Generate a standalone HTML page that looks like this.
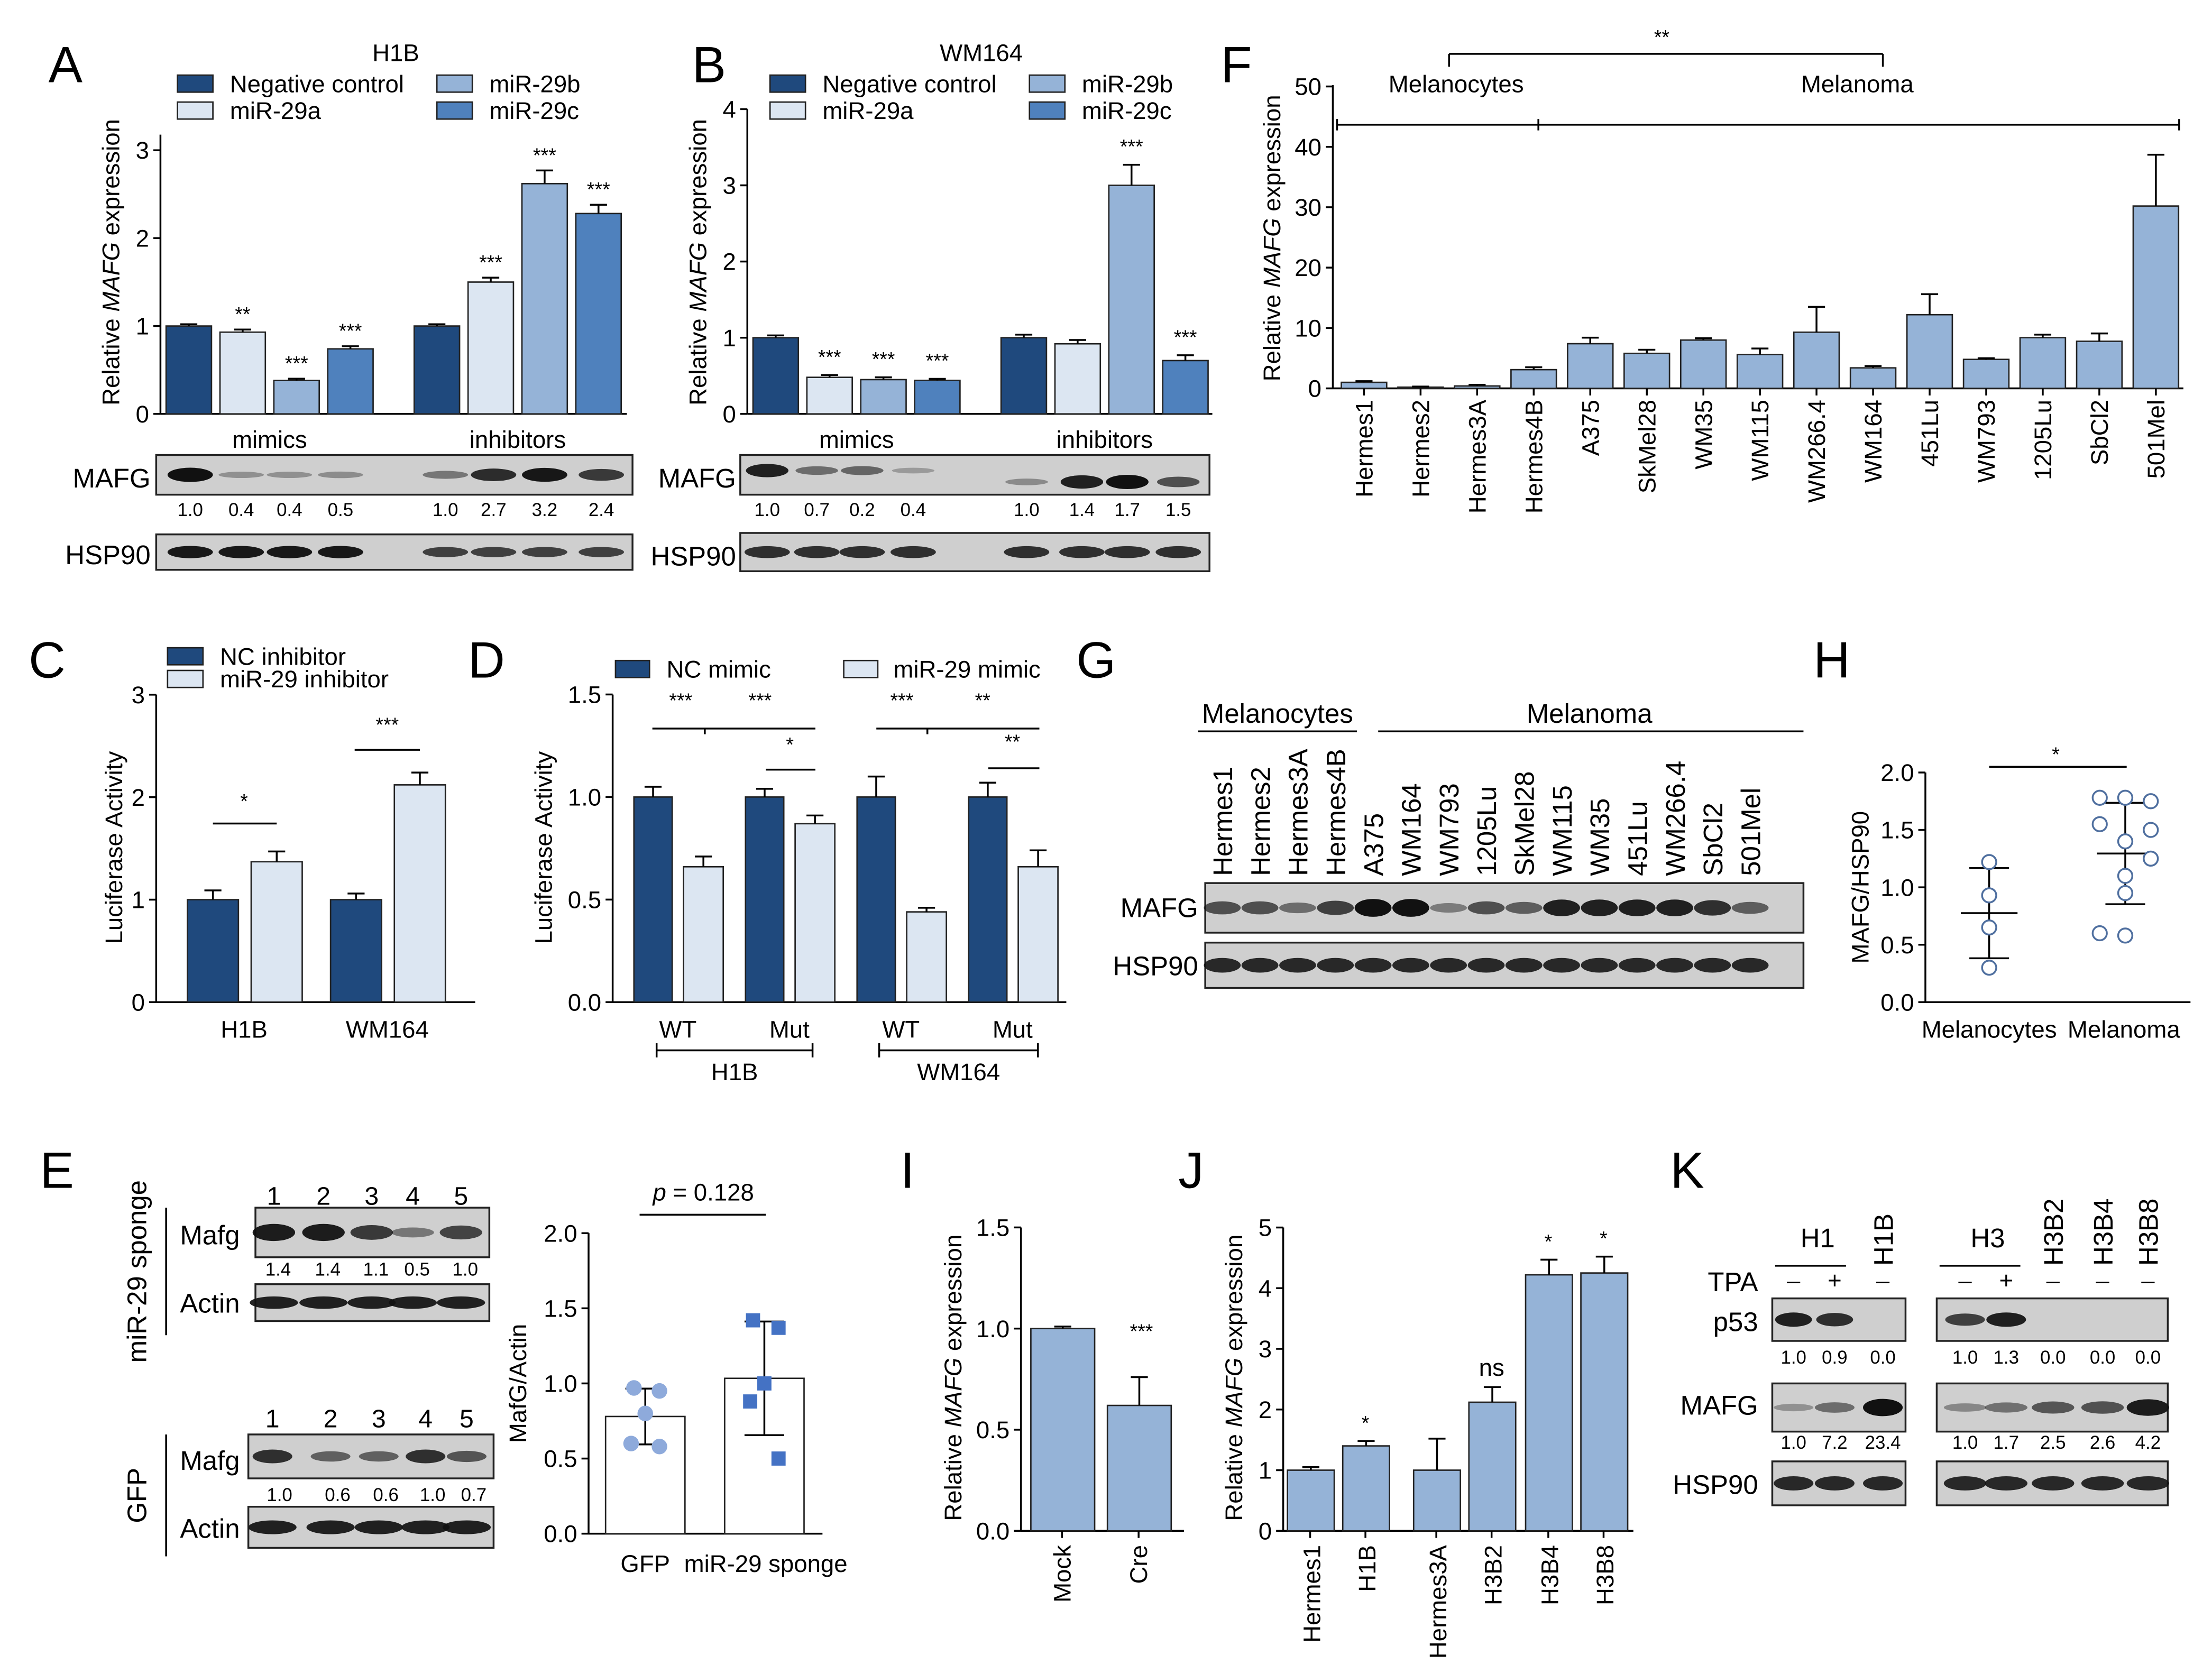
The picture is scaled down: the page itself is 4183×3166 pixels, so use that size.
<!DOCTYPE html>
<html><head><meta charset="utf-8">
<style>
html,body{margin:0;padding:0;background:#fff;}
svg{display:block;font-family:"Liberation Sans",sans-serif;}
</style></head>
<body>
<svg id="fig" width="4183" height="3166" viewBox="0 0 1560 1181" xmlns="http://www.w3.org/2000/svg"></svg>
<script>
// ---- data ----
const colA = ['#1f497d','#dce6f2','#95b3d7','#4f81bd'];
const aMimics = [1.0,0.93,0.38,0.74];
const aMimicsErr = [0.02,0.03,0.02,0.03];
const aInhib = [1.0,1.5,2.62,2.28];
const aInhibErr = [0.02,0.05,0.15,0.1];
const aStarsM = ['','**','***','***'];
const aStarsI = ['','***','***','***'];
const bMimics = [1.0,0.48,0.45,0.44];
const bMimicsErr = [0.03,0.03,0.03,0.02];
const bInhib = [1.0,0.92,3.0,0.7];
const bInhibErr = [0.04,0.05,0.27,0.07];
const bStarsM = ['','***','***','***'];
const bStarsI = ['','','***','***'];
const blotA = [1.0,0.4,0.4,0.5,1.0,2.7,3.2,2.4];
const blotB = [1.0,0.7,0.2,0.4,1.0,1.4,1.7,1.5];
const fCats = ['Hermes1','Hermes2','Hermes3A','Hermes4B','A375','SkMel28','WM35','WM115','WM266.4','WM164','451Lu','WM793','1205Lu','SbCl2','501Mel'];
const fVals = [1.0,0.2,0.4,3.1,7.4,5.8,8.0,5.6,9.3,3.4,12.2,4.8,8.4,7.8,30.2];
const fErr = [0.2,0.1,0.2,0.4,1.0,0.6,0.3,1.0,4.2,0.3,3.4,0.2,0.5,1.3,8.5];
const fTicks = [0,10,20,30,40,50];
const cCats = ['H1B','WM164'];
const cNC = [1.0,1.0];
const cNCErr = [0.09,0.06];
const cMiR = [1.37,2.12];
const cMiRErr = [0.1,0.12];
const dCats = ['WT','Mut','WT','Mut'];
const dNC = [1.0,1.0,1.0,1.0];
const dNCErr = [0.05,0.04,0.1,0.07];
const dMiR = [0.66,0.87,0.44,0.66];
const dMiRErr = [0.05,0.04,0.02,0.08];
const gLanes = ['Hermes1','Hermes2','Hermes3A','Hermes4B','A375','WM164','WM793','1205Lu','SkMel28','WM115','WM35','451Lu','WM266.4','SbCl2','501Mel'];
const gMafg = [0.6,0.6,0.4,0.7,1,1,0.3,0.6,0.5,0.9,0.9,0.9,0.9,0.8,0.5];
const hMel = [1.22,0.93,0.65,0.3];
const hMelanoma = [1.78,1.78,1.75,1.55,1.5,1.4,1.25,1.1,0.95,0.6,0.58];
const eGFP = [0.97,0.95,0.8,0.6,0.58];
const eSponge = [1.42,1.37,1.0,0.88,0.5];
const eSpongeBlot = [1.4,1.4,1.1,0.5,1.0];
const eGFPBlot = [1.0,0.6,0.6,1.0,0.7];
const iCats = ['Mock','Cre'];
const iVals = [1.0,0.62];
const iErr = [0.01,0.14];
const jCats = ['Hermes1','H1B','Hermes3A','H3B2','H3B4','H3B8'];
const jVals = [1.0,1.4,1.0,2.12,4.22,4.25];
const jErr = [0.05,0.08,0.52,0.25,0.25,0.27];
const jSig = ['','*','','ns','*','*'];
const kP53a = [1.0,0.9,0.0];
const kMafga = [1.0,7.2,23.4];
const kP53b = [1.0,1.3,0.0,0.0,0.0];
const kMafgb = [1.0,1.7,2.5,2.6,4.2];

const NS='http://www.w3.org/2000/svg';
const svg=document.getElementById('fig');
function mk(tag,attrs,name,parent){
  const e=document.createElementNS(NS,tag);
  for(const k in attrs)e.setAttribute(k,attrs[k]);
  
  
  (parent||svg).appendChild(e);return e;
}
function txt(x,y,s,size,name,opt){
  opt=opt||{};
  const a={x:x,y:y,'font-size':size,'text-anchor':opt.anchor||'middle',fill:'#000'};
  if(opt.rot!==undefined)a.transform='rotate('+opt.rot+' '+x+' '+y+')';
  if(opt.weight)a['font-weight']=opt.weight;
  const t=mk('text',a,name);
  if(opt.html)t.innerHTML=s;else t.textContent=s;
  return t;
}
function line(x1,y1,x2,y2,name,w){return mk('line',{x1:x1,y1:y1,x2:x2,y2:y2,stroke:'#000','stroke-width':w||1.3},name);}
function yAxis(x,y0,yTop,ticks,scale,fmt,name){
  line(x,y0,x,yTop,name+'-line');
  ticks.forEach(t=>{const y=y0-t*scale;line(x-5,y,x,y,name+'-tick');txt(x-8,y+6,fmt?t.toFixed(fmt):String(t),17,name+'-label',{anchor:'end'});});
}
function bar(x,w,v,err,y0,s,col,name){
  mk('rect',{x:x,y:y0-v*s,width:w,height:v*s,fill:col,stroke:'#222','stroke-width':1},name);
  if(err>0){const xc=x+w/2;line(xc,y0-v*s,xc,y0-(v+err)*s,name+'-error');line(xc-6,y0-(v+err)*s,xc+6,y0-(v+err)*s,name+'-error-cap');}
}
function blot(x,y,w,h,bands,name){
  mk('rect',{x:x,y:y,width:w,height:h,fill:'#cfcfcf',stroke:'#222','stroke-width':1.3},name);
  bands.forEach(b=>{if(b.i>0.02)mk('ellipse',{cx:b.x,cy:y+h/2+(b.dy||0),rx:b.w/2+2,ry:Math.max(1.6,h*0.12*Math.min(1.5,0.5+b.i)),fill:'#111','fill-opacity':Math.min(1,0.2+b.i*0.8)},name+'-band');});
}
function legRect(x,y,col,label,name){mk('rect',{x:x,y:y,width:25,height:12,fill:col,stroke:'#222','stroke-width':1},name+'-swatch');txt(x+37,y+12,label,17,name+'-label',{anchor:'start'});}

// ---------- Panel A ----------
txt(46,58,'A',36,'panel-letter-a');
txt(279,43,'H1B',17,'panel-a-title');
legRect(125,53,colA[0],'Negative control','legend-a-nc');
legRect(125,72,colA[1],'miR-29a','legend-a-29a');
legRect(308,53,colA[2],'miR-29b','legend-a-29b');
legRect(308,72,colA[3],'miR-29c','legend-a-29c');
(function(){const y0=292,s=62,x=113;
 yAxis(x,y0,95,[0,1,2,3],s,0,'a-y-axis');line(x,y0,442,y0,'a-x-axis');
 txt(84,185,'Relative <tspan font-style="italic">MAFG</tspan> expression',17,'a-y-title',{rot:-90,html:true});
 aMimics.forEach((v,i)=>{const bx=117+i*38;bar(bx,32,v,aMimicsErr[i],y0,s,colA[i],'a-bar-mimic');if(aStarsM[i])txt(bx+16,y0-(v+aMimicsErr[i])*s-6,aStarsM[i],14,'a-sig');});
 aInhib.forEach((v,i)=>{const bx=292+i*38;bar(bx,32,v,aInhibErr[i],y0,s,colA[i],'a-bar-inhib');if(aStarsI[i])txt(bx+16,y0-(v+aInhibErr[i])*s-6,aStarsI[i],14,'a-sig');});
 txt(190,316,'mimics',17,'a-group-mimics');txt(365,316,'inhibitors',17,'a-group-inhibitors');
 const xs=[134,170,204,240,314,348,384,424];
 txt(106,344,'MAFG',19,'a-blot-label-mafg',{anchor:'end'});
 blot(110,321,336,28,blotA.map((v,i)=>({x:xs[i],w:28,i:i==0?1:Math.min(1,v/3.5+0.05)})),'a-blot-mafg');
 blotA.forEach((v,i)=>txt(xs[i],364,v.toFixed(1),13,'a-blot-quant'));
 txt(106,398,'HSP90',19,'a-blot-label-hsp90',{anchor:'end'});
 blot(110,377,336,25,xs.map((c,i)=>({x:c,w:28,i:i<4?0.95:0.7})),'a-blot-hsp90');
})();

// ---------- Panel B ----------
txt(500,58,'B',36,'panel-letter-b');
txt(692,43,'WM164',17,'panel-b-title');
legRect(543,53,colA[0],'Negative control','legend-b-nc');
legRect(543,72,colA[1],'miR-29a','legend-b-29a');
legRect(726,53,colA[2],'miR-29b','legend-b-29b');
legRect(726,72,colA[3],'miR-29c','legend-b-29c');
(function(){const y0=292,s=53.75,x=527;
 yAxis(x,y0,77,[0,1,2,3,4],s,0,'b-y-axis');line(x,y0,855,y0,'b-x-axis');
 txt(498,185,'Relative <tspan font-style="italic">MAFG</tspan> expression',17,'b-y-title',{rot:-90,html:true});
 bMimics.forEach((v,i)=>{const bx=531+i*38;bar(bx,32,v,bMimicsErr[i],y0,s,colA[i],'b-bar-mimic');if(bStarsM[i])txt(bx+16,y0-(v+bMimicsErr[i])*s-8,bStarsM[i],14,'b-sig');});
 bInhib.forEach((v,i)=>{const bx=706+i*38;bar(bx,32,v,bInhibErr[i],y0,s,colA[i],'b-bar-inhib');if(bStarsI[i])txt(bx+16,y0-(v+bInhibErr[i])*s-8,bStarsI[i],14,'b-sig');});
 txt(604,316,'mimics',17,'b-group-mimics');txt(779,316,'inhibitors',17,'b-group-inhibitors');
 const xs=[541,576,608,644,724,763,795,831];
 txt(519,344,'MAFG',19,'b-blot-label-mafg',{anchor:'end'});
 blot(522,321,331,28,blotB.map((v,i)=>({x:xs[i],w:26,i:[0.9,0.4,0.45,0.1,0.2,0.9,1,0.6][i],dy:i>=4?5:-3})),'b-blot-mafg');
 blotB.forEach((v,i)=>txt(xs[i],364,v.toFixed(1),13,'b-blot-quant'));
 txt(519,399,'HSP90',19,'b-blot-label-hsp90',{anchor:'end'});
 blot(522,376,331,27,xs.map(c=>({x:c,w:28,i:0.8})),'b-blot-hsp90');
})();

// ---------- Panel F ----------
txt(872,58,'F',36,'panel-letter-f');
(function(){const y0=274,s=4.26,x=940;
 yAxis(x,y0,60,fTicks,s,0,'f-y-axis');line(x,y0,1540,y0,'f-x-axis');
 txt(903,168,'Relative <tspan font-style="italic">MAFG</tspan> expression',17,'f-y-title',{rot:-90,html:true});
 fVals.forEach((v,i)=>{const bx=946+i*39.9;bar(bx,32,v,fErr[i],y0,s,'#95b3d7','f-bar-'+fCats[i]);
   line(bx+16,y0,bx+16,y0+5,'f-x-tick');txt(bx+22,282,fCats[i],17,'f-x-label',{anchor:'end',rot:-90});});
 line(943,88,1085,88,'f-melanocytes-range');line(943,84,943,92,'f-range-tick');line(1085,84,1085,92,'f-range-tick');
 line(1085,88,1537,88,'f-melanoma-range');line(1537,84,1537,92,'f-range-tick');
 line(1022,38,1328,38,'f-sig-bracket');line(1022,38,1022,47,'f-sig-bracket-end');line(1328,38,1328,47,'f-sig-bracket-end');
 txt(1172,31,'**',14,'f-sig');
 txt(1027,65,'Melanocytes',17,'f-group-melanocytes');txt(1310,65,'Melanoma',17,'f-group-melanoma');
})();

// ---------- Panel C ----------
txt(33,478,'C',36,'panel-letter-c');
legRect(118,457,colA[0],'NC inhibitor','legend-c-nc');
legRect(118,473,colA[1],'miR-29 inhibitor','legend-c-mir');
(function(){const y0=707,s=72.3,x=110;
 yAxis(x,y0,490,[0,1,2,3],s,0,'c-y-axis');line(x,y0,335,y0,'c-x-axis');
 txt(86,598,'Luciferase Activity',17,'c-y-title',{rot:-90});
 cCats.forEach((c,i)=>{const gx=132+i*101;bar(gx,36,cNC[i],cNCErr[i],y0,s,colA[0],'c-bar-nc');bar(gx+45,36,cMiR[i],cMiRErr[i],y0,s,colA[1],'c-bar-mir');
   txt(gx+40,732,c,17,'c-x-label');});
 line(150,581,195,581,'c-sig-line');txt(172,570,'*',14,'c-sig');
 line(250,529,296,529,'c-sig-line');txt(273,516,'***',14,'c-sig');
})();

// ---------- Panel D ----------
txt(343,478,'D',36,'panel-letter-d');
mk('rect',{x:434,y:466,width:24,height:12,fill:colA[0],stroke:'#222'},'legend-d-nc-swatch');txt(470,478,'NC mimic',17,'legend-d-nc-label',{anchor:'start'});
mk('rect',{x:595,y:466,width:24,height:12,fill:colA[1],stroke:'#222'},'legend-d-mir-swatch');txt(630,478,'miR-29 mimic',17,'legend-d-mir-label',{anchor:'start'});
(function(){const y0=707,s=144.7,x=432;
 yAxis(x,y0,490,[0,0.5,1,1.5],s,1,'d-y-axis');line(x,y0,752,y0,'d-x-axis');
 txt(389,598,'Luciferase Activity',17,'d-y-title',{rot:-90});
 dCats.forEach((c,i)=>{const gx=447+i*78.7;bar(gx,27,dNC[i],dNCErr[i],y0,s,colA[0],'d-bar-nc');bar(gx+35,28,dMiR[i],dMiRErr[i],y0,s,colA[1],'d-bar-mir');
   txt(gx+31,732,c,17,'d-x-label');});
 line(460,514,575,514,'d-sig-line');line(497,514,497,518,'d-sig-tick');txt(480,499,'***',14,'d-sig');txt(536,499,'***',14,'d-sig');
 line(540,543,575,543,'d-sig-line');txt(557,530,'*',14,'d-sig');
 line(618,514,733,514,'d-sig-line');line(654,514,654,518,'d-sig-tick');txt(636,499,'***',14,'d-sig');txt(693,499,'**',14,'d-sig');
 line(697,542,733,542,'d-sig-line');txt(714,528,'**',14,'d-sig');
 line(463,741,573,741,'d-bracket-h1b');line(463,736,463,746,'d-bracket-end');line(573,736,573,746,'d-bracket-end');txt(518,762,'H1B',17,'d-group-h1b');
 line(620,741,732,741,'d-bracket-wm164');line(620,736,620,746,'d-bracket-end');line(732,736,732,746,'d-bracket-end');txt(676,762,'WM164',17,'d-group-wm164');
})();

// ---------- Panel G ----------
txt(773,478,'G',36,'panel-letter-g');
txt(901,510,'Melanocytes',19,'g-group-melanocytes');line(845,516,957,516,'g-line-melanocytes');
txt(1121,510,'Melanoma',19,'g-group-melanoma');line(972,516,1272,516,'g-line-melanoma');
(function(){const xs=gLanes.map((l,i)=>862+i*26.6);
 gLanes.forEach((l,i)=>txt(xs[i]+7,618,l,19,'g-lane-label',{anchor:'start',rot:-90}));
 txt(845,647,'MAFG',19,'g-blot-label-mafg',{anchor:'end'});
 blot(850,623,422,35,gMafg.map((v,i)=>({x:xs[i],w:22,i:v})),'g-blot-mafg');
 txt(845,688,'HSP90',19,'g-blot-label-hsp90',{anchor:'end'});
 blot(850,665,422,32,xs.map(c=>({x:c,w:22,i:0.85})),'g-blot-hsp90');
})();

// ---------- Panel H ----------
txt(1292,478,'H',36,'panel-letter-h');
(function(){const y0=707,s=81,x=1358;
 yAxis(x,y0,545,[0,0.5,1,1.5,2],s,1,'h-y-axis');line(x,y0,1545,y0,'h-x-axis');
 txt(1318,626,'MAFG/HSP90',17,'h-y-title',{rot:-90});
 txt(1403,732,'Melanocytes',17,'h-x-label');txt(1498,732,'Melanoma',17,'h-x-label');
 line(1403,541,1500,541,'h-sig-line');txt(1450,537,'*',14,'h-sig');
 function grp(vals,cx,offs,name){const m=vals.reduce((a,b)=>a+b,0)/vals.length;const sd=Math.sqrt(vals.reduce((a,b)=>a+(b-m)*(b-m),0)/(vals.length-1));
   line(cx,y0-(m-sd)*s,cx,y0-(m+sd)*s,name+'-sd');line(cx-20,y0-m*s,cx+20,y0-m*s,name+'-mean');line(cx-14,y0-(m+sd)*s,cx+14,y0-(m+sd)*s,name+'-sd-cap');line(cx-14,y0-(m-sd)*s,cx+14,y0-(m-sd)*s,name+'-sd-cap');
   vals.forEach((v,i)=>mk('circle',{cx:cx+offs[i],cy:y0-v*s,r:5,fill:'#fff',stroke:'#4f6f9f','stroke-width':1.3},name+'-point'));}
 grp(hMel,1403,[0,0,0,0],'h-melanocytes');
 grp(hMelanoma,1499,[-18,0,18,-18,18,0,18,0,0,-18,0],'h-melanoma');
})();

// ---------- Panel E ----------
txt(40,838,'E',36,'panel-letter-e');
txt(103,897,'miR-29 sponge',19,'e-group-sponge',{rot:-90});line(117,852,117,942,'e-group-line');
txt(103,1055,'GFP',19,'e-group-gfp',{rot:-90});line(117,1012,117,1098,'e-group-line');
(function(){const xs1=[193,228,262,291,325];
 xs1.forEach((c,i)=>txt(c,850,String(i+1),18,'e-lane-number'));
 txt(169,878,'Mafg',19,'e-blot-label-mafg',{anchor:'end'});
 blot(180,852,165,35,eSpongeBlot.map((v,i)=>({x:xs1[i],w:26,i:v/1.5})),'e-blot-sponge-mafg');
 eSpongeBlot.forEach((v,i)=>txt(xs1[i]+3,900,v.toFixed(1),13,'e-blot-quant'));
 txt(169,926,'Actin',19,'e-blot-label-actin',{anchor:'end'});
 blot(180,906,165,26,xs1.map(c=>({x:c,w:30,i:0.9})),'e-blot-sponge-actin');
 const xs2=[192,233,267,300,329];
 xs2.forEach((c,i)=>txt(c,1007,String(i+1),18,'e-lane-number'));
 txt(169,1037,'Mafg',19,'e-blot-label-mafg',{anchor:'end'});
 blot(175,1012,173,31,eGFPBlot.map((v,i)=>({x:xs2[i],w:24,i:v*0.8})),'e-blot-gfp-mafg');
 eGFPBlot.forEach((v,i)=>txt(xs2[i]+5,1059,v.toFixed(1),13,'e-blot-quant'));
 txt(169,1085,'Actin',19,'e-blot-label-actin',{anchor:'end'});
 blot(175,1063,173,29,xs2.map(c=>({x:c,w:30,i:0.9})),'e-blot-gfp-actin');
 const y0=1082,s=106,x=415;
 yAxis(x,y0,870,[0,0.5,1,1.5,2],s,1,'e-y-axis');line(x,y0,580,y0,'e-x-axis');
 txt(371,976,'MafG/Actin',17,'e-y-title',{rot:-90});
 txt(455,1109,'GFP',17,'e-x-label');txt(540,1109,'miR-29 sponge',17,'e-x-label');
 txt(496,847,'<tspan font-style="italic">p</tspan> = 0.128',17,'e-p-value',{html:true});line(451,857,540,857,'e-sig-line');
 function grp(vals,cx,sq,col,name){const m=vals.reduce((a,b)=>a+b,0)/vals.length;const sd=Math.sqrt(vals.reduce((a,b)=>a+(b-m)*(b-m),0)/(vals.length-1));
   mk('rect',{x:cx-28,y:y0-m*s,width:56,height:m*s,fill:'#fff',stroke:'#222','stroke-width':1},name+'-bar');
   line(cx,y0-(m-sd)*s,cx,y0-(m+sd)*s,name+'-sd');line(cx-14,y0-(m+sd)*s,cx+14,y0-(m+sd)*s,name+'-sd-cap');line(cx-14,y0-(m-sd)*s,cx+14,y0-(m-sd)*s,name+'-sd-cap');
   const offs=[-8,10,0,-10,10];
   vals.forEach((v,i)=>{if(sq)mk('rect',{x:cx+offs[i]-5,y:y0-v*s-5,width:10,height:10,fill:col},name+'-point');else mk('circle',{cx:cx+offs[i],cy:y0-v*s,r:5.5,fill:col},name+'-point');});}
 grp(eGFP,455,false,'#8eaadb','e-gfp');
 grp(eSponge,539,true,'#4472c4','e-sponge');
})();

// ---------- Panel I ----------
txt(640,838,'I',36,'panel-letter-i');
(function(){const y0=1080,s=142.7,x=720;
 yAxis(x,y0,866,[0,0.5,1,1.5],s,1,'i-y-axis');line(x,y0,835,y0,'i-x-axis');
 txt(678,972,'Relative <tspan font-style="italic">MAFG</tspan> expression',17,'i-y-title',{rot:-90,html:true});
 iVals.forEach((v,i)=>{const bx=727+i*54;bar(bx,45,v,iErr[i],y0,s,'#95b3d7','i-bar-'+iCats[i]);line(bx+22,y0,bx+22,y0+5,'i-x-tick');txt(bx+28,1090,iCats[i],17,'i-x-label',{anchor:'end',rot:-90});});
 txt(805,944,'***',14,'i-sig');
})();

// ---------- Panel J ----------
txt(840,838,'J',36,'panel-letter-j');
(function(){const y0=1080,s=42.8,x=905;
 yAxis(x,y0,866,[0,1,2,3,4,5],s,0,'j-y-axis');line(x,y0,1152,y0,'j-x-axis');
 txt(876,972,'Relative <tspan font-style="italic">MAFG</tspan> expression',17,'j-y-title',{rot:-90,html:true});
 const xs=[908,947,997,1036,1076,1115];
 jVals.forEach((v,i)=>{bar(xs[i],33,v,jErr[i],y0,s,'#95b3d7','j-bar-'+jCats[i]);line(xs[i]+16,y0,xs[i]+16,y0+5,'j-x-tick');txt(xs[i]+23,1090,jCats[i],17,'j-x-label',{anchor:'end',rot:-90});
   if(jSig[i])txt(xs[i]+16,y0-(v+jErr[i])*s-8,jSig[i],jSig[i]=='ns'?17:14,'j-sig');});
})();

// ---------- Panel K ----------
txt(1190,838,'K',36,'panel-letter-k');
(function(){
 txt(1282,880,'H1',19,'k-group-h1');line(1252,893,1302,893,'k-group-line');
 txt(1335,893,'H1B',19,'k-lane-h1b',{anchor:'start',rot:-90});
 txt(1402,880,'H3',19,'k-group-h3');line(1368,893,1425,893,'k-group-line');
 ['H3B2','H3B4','H3B8'].forEach((l,i)=>txt([1455,1490,1522][i],893,l,19,'k-lane-label',{anchor:'start',rot:-90}));
 txt(1240,911,'TPA',19,'k-tpa-label',{anchor:'end'});
 const xa=[1265,1294,1328],xb=[1386,1415,1448,1483,1515];
 ['–','+','–'].forEach((s,i)=>txt(xa[i],909,s,17,'k-tpa-sign'));
 ['–','+','–','–','–'].forEach((s,i)=>txt(xb[i],909,s,17,'k-tpa-sign'));
 txt(1240,939,'p53',19,'k-blot-label-p53',{anchor:'end'});
 txt(1240,998,'MAFG',19,'k-blot-label-mafg',{anchor:'end'});
 txt(1240,1054,'HSP90',19,'k-blot-label-hsp90',{anchor:'end'});
 blot(1250,916,94,30,kP53a.map((v,i)=>({x:xa[i],w:22,i:v*0.9})),'k-blot-h1-p53');
 blot(1366,916,163,30,kP53b.map((v,i)=>({x:xb[i],w:24,i:v*0.7})),'k-blot-h3-p53');
 kP53a.forEach((v,i)=>txt(xa[i],962,v.toFixed(1),13,'k-quant'));
 kP53b.forEach((v,i)=>txt(xb[i],962,v.toFixed(1),13,'k-quant'));
 blot(1250,976,94,34,kMafga.map((v,i)=>({x:xa[i],w:24,i:[0.15,0.4,1][i]})),'k-blot-h1-mafg');
 blot(1366,976,163,34,kMafgb.map((v,i)=>({x:xb[i],w:26,i:v/4.5})),'k-blot-h3-mafg');
 kMafga.forEach((v,i)=>txt(xa[i],1022,v.toFixed(1),13,'k-quant'));
 kMafgb.forEach((v,i)=>txt(xb[i],1022,v.toFixed(1),13,'k-quant'));
 blot(1250,1031,94,31,xa.map(c=>({x:c,w:24,i:0.85})),'k-blot-h1-hsp90');
 blot(1366,1031,163,31,xb.map(c=>({x:c,w:26,i:0.85})),'k-blot-h3-hsp90');
})();
</script>
</body></html>
